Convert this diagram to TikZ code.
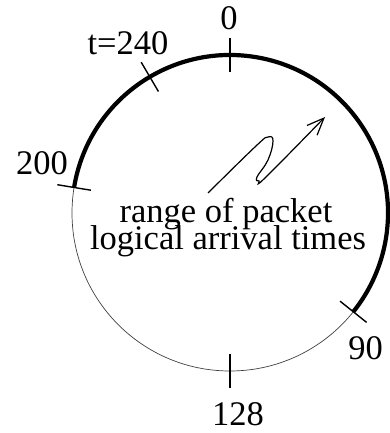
\documentclass[tikz,border=0pt]{standalone}
\usepackage{fontspec}
\setmainfont{Liberation Serif}
\usetikzlibrary{arrows.meta}
\begin{document}
\begin{tikzpicture}[x=1pt,y=1pt,
  lbl/.style={font=\fontsize{34.5}{27}\selectfont, inner sep=0pt, anchor=base},
  tickmark/.style={line width=1.4pt},
  rim/.style={line width=0.7pt, draw=black!75},
  busy/.style={line width=4.2pt, line join=round},
  squiggle/.style={line width=1.2pt, -{Straight Barb[length=17pt,width=14pt]}}]
\useasboundingbox (0,0) rectangle (390,433);
\coordinate (c) at (230,220);
\def\R{158}
\draw[rim] (c) circle[radius=\R];
\draw[busy] ([shift={(170.7:\R)}]c) arc[start angle=170.7, end angle=-38.7, radius=\R];
\foreach \a in {90,120.5,170.7,-38.7,-90}
  \draw[tickmark] ([shift={(\a:\R-17)}]c) -- ([shift={(\a:\R+17)}]c);
\node[lbl] (l0) at (229,403) {0};
\node[lbl] (l240) at (128,378) {t=240};
\node[lbl] (l200) at (42,258) {200};
\node[lbl] (l90) at (365.5,73) {90};
\node[lbl] (l128) at (238,8) {128};
\node[lbl] (t1) at (226,210) {range of packet};
\node[lbl] (t2) at (228,183) {logical arrival times};
\draw[squiggle] plot[smooth, tension=0.7] coordinates {(208,240) (256,287) (268,296) (273,292) (268,273) (257,256) (259,252) (266,256) (325,316)};
\end{tikzpicture}
\end{document}
